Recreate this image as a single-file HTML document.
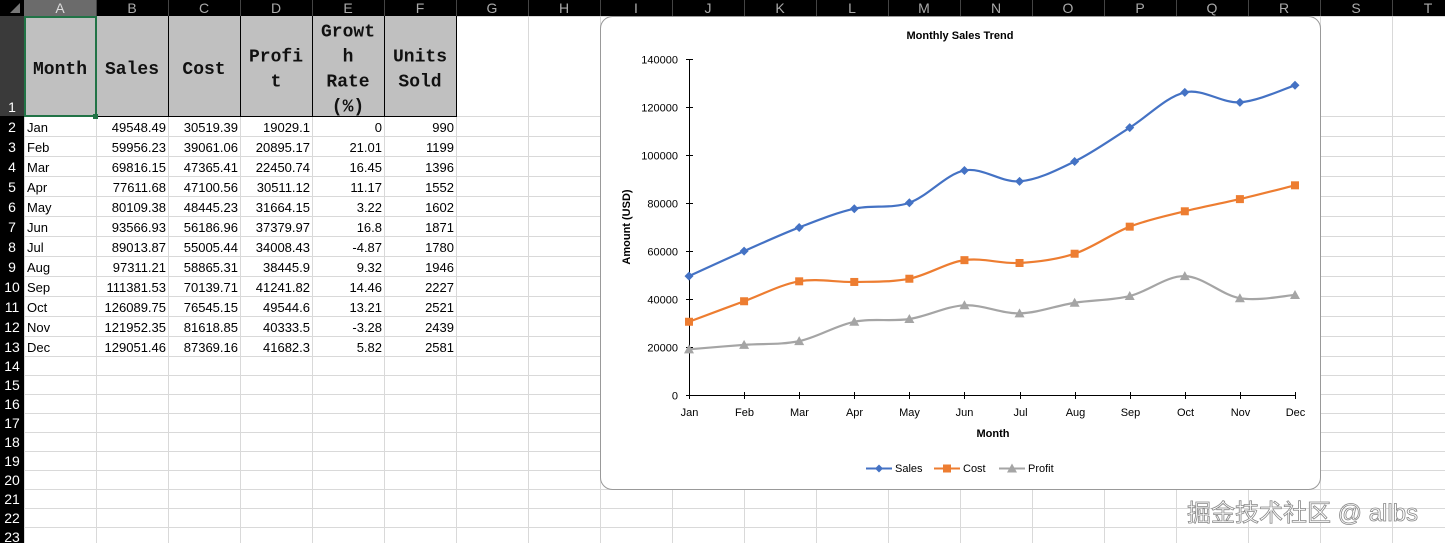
<!DOCTYPE html>
<html><head><meta charset="utf-8">
<style>
html,body{margin:0;padding:0;width:1445px;height:543px;overflow:hidden;background:#fff;font-family:"Liberation Sans","Noto Sans CJK SC",sans-serif;}
#wrap{position:relative;width:1445px;height:543px;}
</style></head><body><div id="wrap">
<svg id="g" width="1445" height="543" style="position:absolute;left:0;top:0"></svg>
</div>
<script>
const NS="http://www.w3.org/2000/svg";
const g=document.getElementById('g');
function el(t,a,txt){const e=document.createElementNS(NS,t);for(const k in a)e.setAttribute(k,a[k]);if(txt!==undefined)e.textContent=txt;g.appendChild(e);return e;}
const colX=[];for(let i=0;i<=20;i++)colX.push(24+72*i);
const rowY=[16,116];for(let i=0;i<12;i++)rowY.push(rowY[rowY.length-1]+20);
while(rowY[rowY.length-1]<543)rowY.push(rowY[rowY.length-1]+19);
for(const x of colX)el('line',{x1:x+.5,y1:16,x2:x+.5,y2:543,stroke:'#d9d9d9'});
for(const y of rowY)el('line',{x1:24,y1:y+.5,x2:1445,y2:y+.5,stroke:'#d9d9d9'});
el('rect',{x:0,y:0,width:1445,height:16,fill:'#000'});
el('rect',{x:0,y:16,width:24,height:527,fill:'#000'});
el('rect',{x:24,y:0,width:72,height:16,fill:'#6b6b6b'});
el('rect',{x:0,y:16,width:24,height:100,fill:'#3a3a3a'});
el('polygon',{points:'20,3 20,13 10,13',fill:'#777'});
const L="ABCDEFGHIJKLMNOPQRST";
for(let i=0;i<20;i++){el('text',{x:colX[i]+36,y:13,'text-anchor':'middle','font-size':14,fill:i==0?'#ddd':'#aaa'},L[i]);
 if(i>0)el('line',{x1:colX[i]+.5,y1:0,x2:colX[i]+.5,y2:16,stroke:'#444'});}
for(let r=0;r<rowY.length-1;r++){el('text',{x:12,y:rowY[r+1]-4,'text-anchor':'middle','font-size':14,fill:'#fff'},r+1);}
el('rect',{x:24,y:16,width:432,height:100,fill:'#c0c0c0'});
for(let i=0;i<=6;i++)el('line',{x1:colX[i]+.5,y1:16,x2:colX[i]+.5,y2:117,stroke:'#000'});
el('line',{x1:24,y1:116.5,x2:456,y2:116.5,stroke:'#000'});
const hdr=[["Month"],["Sales"],["Cost"],["Profi","t"],["Growt","h","Rate","(%)"],["Units","Sold"]];
hdr.forEach((h,i)=>{const n=h.length;const cy=68;h.forEach((s,j)=>{el('text',{x:colX[i]+36,y:cy+6+(j-(n-1)/2)*25,'text-anchor':'middle','font-size':18,'font-weight':'bold','font-family':'Liberation Mono, monospace',fill:'#111'},s);});});
el('rect',{x:25,y:17,width:71,height:99,fill:'none',stroke:'#217346','stroke-width':2});
el('rect',{x:93,y:114,width:5,height:5,fill:'#217346'});
const data=[["Jan",49548.49,30519.39,19029.1,0,990],["Feb",59956.23,39061.06,20895.17,21.01,1199],["Mar",69816.15,47365.41,22450.74,16.45,1396],["Apr",77611.68,47100.56,30511.12,11.17,1552],["May",80109.38,48445.23,31664.15,3.22,1602],["Jun",93566.93,56186.96,37379.97,16.8,1871],["Jul",89013.87,55005.44,34008.43,-4.87,1780],["Aug",97311.21,58865.31,38445.9,9.32,1946],["Sep",111381.53,70139.71,41241.82,14.46,2227],["Oct",126089.75,76545.15,49544.6,13.21,2521],["Nov",121952.35,81618.85,40333.5,-3.28,2439],["Dec",129051.46,87369.16,41682.3,5.82,2581]];
data.forEach((d,r)=>{const y=rowY[r+1]+16;d.forEach((v,c)=>{if(c==0)el('text',{x:27,y:y,'font-size':13},v);else el('text',{x:colX[c+1]-2,y:y,'font-size':13,'text-anchor':'end'},String(v));});});
el('rect',{x:600.5,y:16.5,width:720,height:473,rx:12,fill:'#fff',stroke:'#999'});
el('text',{x:960,y:39,'text-anchor':'middle','font-size':11,'font-weight':'bold'},'Monthly Sales Trend');
const X=i=>689+i*55.09, Y=v=>395-v*0.0024;
el('line',{x1:689.5,y1:59,x2:689.5,y2:395,stroke:'#000'});
el('line',{x1:689,y1:395.5,x2:1296,y2:395.5,stroke:'#000'});
for(let k=0;k<=7;k++){const y=Math.round(Y(k*20000))+.5;el('line',{x1:686,y1:y,x2:693,y2:y,stroke:'#000'});el('text',{x:678,y:y+4,'text-anchor':'end','font-size':11},String(k*20000));}
data.forEach((d,i)=>{const x=Math.round(X(i))+.5;el('line',{x1:x,y1:392,x2:x,y2:399,stroke:'#000'});el('text',{x:x,y:416,'text-anchor':'middle','font-size':11},d[0]);});
el('text',{x:993,y:437,'text-anchor':'middle','font-size':11,'font-weight':'bold'},'Month');
el('text',{x:0,y:0,'text-anchor':'middle','font-size':11,'font-weight':'bold',transform:'translate(630,227) rotate(-90)'},'Amount (USD)');
const cols=['#4472c4','#ed7d31','#a5a5a5'];
function marker(t,x,y,c,s){if(t==0)el('polygon',{points:`${x},${y-s} ${x+s},${y} ${x},${y+s} ${x-s},${y}`,fill:c});else if(t==1)el('rect',{x:x-s,y:y-s,width:2*s,height:2*s,fill:c});else el('polygon',{points:`${x},${y-s-1} ${x+s+1},${y+s} ${x-s-1},${y+s}`,fill:c});}
for(let s=0;s<3;s++){const p=data.map((d,i)=>[X(i),Y(d[s+1])]);let dd=`M${p[0][0]},${p[0][1]}`;const t=1/6;
 for(let i=0;i<p.length-1;i++){const p0=p[i-1]||p[i],p1=p[i],p2=p[i+1],p3=p[i+2]||p2;dd+=` C${p1[0]+(p2[0]-p0[0])*t},${p1[1]+(p2[1]-p0[1])*t} ${p2[0]-(p3[0]-p1[0])*t},${p2[1]-(p3[1]-p1[1])*t} ${p2[0]},${p2[1]}`;}
 el('path',{d:dd,fill:'none',stroke:cols[s],'stroke-width':2.2});
 p.forEach(q=>marker(s,q[0],q[1],cols[s],s==0?4.5:4));}
const lg=[["Sales",866],["Cost",934],["Profit",999]];
lg.forEach((l,s)=>{el('line',{x1:l[1],y1:468.5,x2:l[1]+26,y2:468.5,stroke:cols[s],'stroke-width':2});marker(s,l[1]+13,468.5,cols[s],4);el('text',{x:l[1]+29,y:472,'font-size':11},l[0]);});
el('text',{x:1187,y:521,'font-size':24,fill:'#fff',stroke:'#888','stroke-width':0.8,'font-family':'Liberation Sans, Noto Sans CJK SC, sans-serif'},'掘金技术社区 @ allbs');
</script>
</body></html>
